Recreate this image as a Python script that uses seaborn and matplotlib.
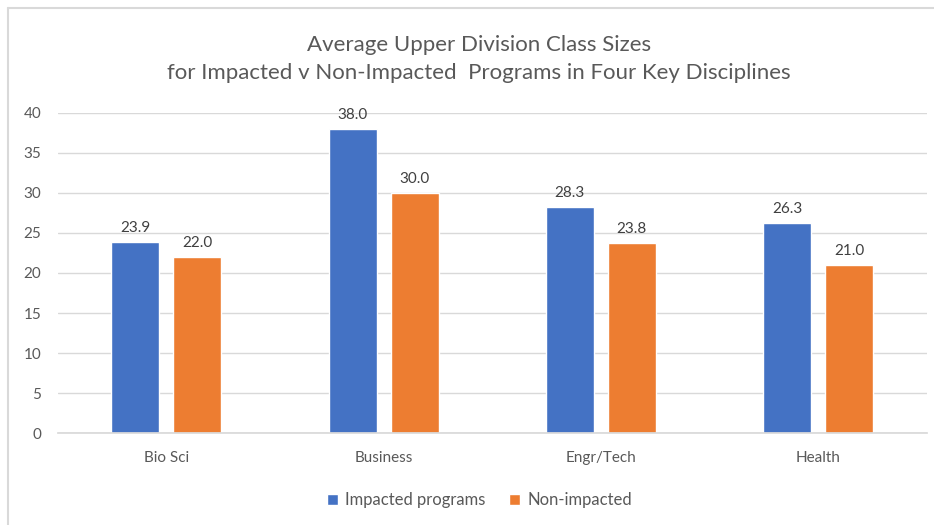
import pandas as pd
import matplotlib
matplotlib.use("Agg")
import matplotlib.pyplot as plt
from matplotlib.lines import Line2D
import seaborn as sns

# Chart data
disciplines = ['Bio Sci', 'Business', 'Engr/Tech', 'Health']
impacted = [23.9, 38.0, 28.3, 26.3]
non_impacted = [22.0, 30.0, 23.8, 21.0]
series_names = ['Impacted programs', 'Non-impacted']
y_ticks = [0, 5, 10, 15, 20, 25, 30, 35, 40]


def main():
    """
    Grouped bar chart of class sizes for impacted vs non-impacted programs.
    """
    df = pd.DataFrame({
        'discipline': disciplines * 2,
        'series': [series_names[0]] * len(disciplines)
        + [series_names[1]] * len(disciplines),
        'size': impacted + non_impacted,
    })

    sns.set_theme(style='white')
    plt.rcParams['font.family'] = ['Lato', 'DejaVu Sans']

    fig = plt.figure(figsize=(9.34, 5.25), dpi=100)
    ax = fig.add_axes([0.062, 0.175, 0.930, 0.610])

    palette = {series_names[0]: '#4472C4', series_names[1]: '#ED7D31'}
    sns.barplot(data=df, x='discipline', y='size', hue='series',
                palette=palette, width=0.571, gap=0.226, saturation=1,
                ax=ax, legend=True)

    # Value labels above every bar
    for container in ax.containers:
        ax.bar_label(container, fmt='%.1f', padding=5, fontsize=11,
                     color='#404040', clip_on=False)

    ax.set_ylim(0, 40)
    ax.set_xlim(-0.5, 3.5)
    ax.set_yticks(y_ticks)
    ax.yaxis.grid(True, color='#D9D9D9', linewidth=1)
    ax.set_axisbelow(True)
    for side in ['top', 'right', 'left']:
        ax.spines[side].set_visible(False)
    ax.spines['bottom'].set_color('#D9D9D9')
    ax.tick_params(axis='both', length=0, labelsize=11,
                   colors='#595959', pad=12)
    ax.tick_params(axis='x', pad=13)
    ax.set_xlabel('')
    ax.set_ylabel('')

    fig.text(0.513, 0.888, 'Average Upper Division Class Sizes\n'
             'for Impacted v Non-Impacted  Programs in Four Key Disciplines',
             ha='center', va='center', fontsize=16, color='#595959',
             linespacing=1.5)

    ax.legend(loc='center', bbox_to_anchor=(0.485, -0.21), ncol=2,
              frameon=False, fontsize=12, handlelength=0.7,
              handleheight=0.7, handletextpad=0.4, columnspacing=1.4,
              labelcolor='#595959')

    # Light frame lines on the top and left edges
    fig.add_artist(Line2D([0.009, 1.0], [0.984, 0.984],
                          transform=fig.transFigure, color='#D9D9D9', lw=1.5))
    fig.add_artist(Line2D([0.009, 0.009], [0.0, 0.984],
                          transform=fig.transFigure, color='#D9D9D9', lw=1.5))

    fig.savefig('out.png', dpi=100)


if __name__ == "__main__":
    main()
